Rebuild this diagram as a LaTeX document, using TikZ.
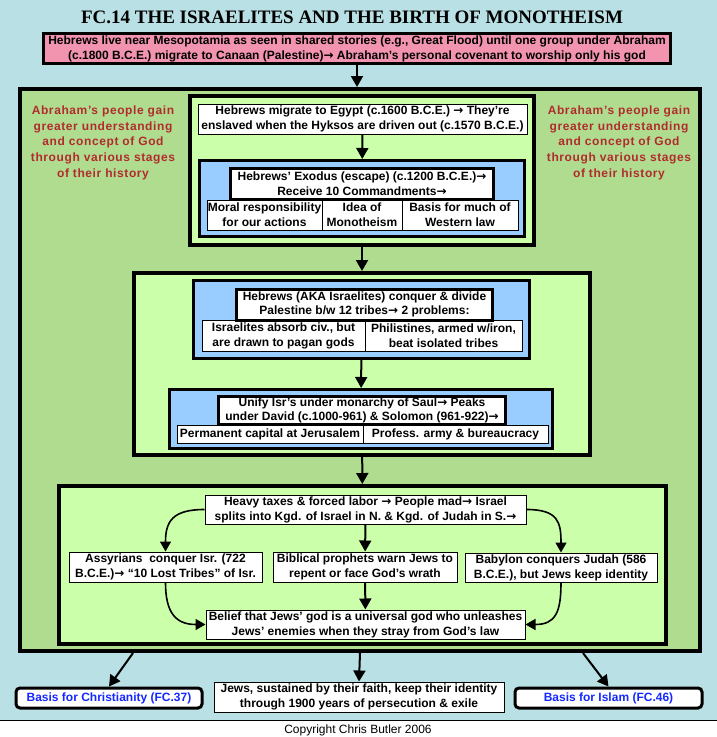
\documentclass[tikz,border=0pt]{standalone}
\usepackage{fontspec}
\setmainfont{Liberation Sans}
\newfontfamily\titlefont{Liberation Serif}
\newfontfamily\notefont[LetterSpace=5]{Liberation Sans}
\newfontfamily\arrowfont{DejaVu Sans}
\usetikzlibrary{arrows.meta}
\definecolor{bgblue}{RGB}{185,224,228}
\definecolor{midgreen}{RGB}{176,220,144}
\definecolor{palegreen}{RGB}{204,255,170}
\definecolor{skyblue}{RGB}{153,204,255}
\definecolor{pinkbox}{RGB}{242,148,176}
\definecolor{notered}{RGB}{176,44,44}
\definecolor{linkblue}{RGB}{20,40,255}
\newcommand{\boxfont}{\bfseries\fontsize{12}{15}\selectfont}
\newcommand{\ra}{{\arrowfont\bfseries →}}
\begin{document}
\begin{tikzpicture}[x=1pt,y=-1pt,
        wh/.style 2 args={minimum width=#1pt,minimum height=#2pt},
        txt/.style={draw,fill=white,line width=1pt,inner sep=0pt,align=center,font=\boxfont},
        headbox/.style={txt,line width=3pt},
        bluebox/.style={draw,fill=skyblue,line width=3pt,inner sep=0pt},
        stagebox/.style={draw,fill=palegreen,line width=4pt,inner sep=0pt},
        linkbox/.style={txt,line width=3pt,rounded corners=4pt,text=linkblue},
        note/.style={text=notered,align=center,font=\notefont\bfseries\fontsize{12}{15.8}\selectfont},
        arr/.style={line width=2pt,-{Triangle[length=11pt,width=12pt]}},
        carr/.style={line width=1.6pt,-{Triangle[length=10pt,width=11pt]}}]
        \useasboundingbox (0,0) rectangle (717,737);
        % page
        \fill[bgblue] (0,0) rectangle (717,720);
        \fill[white] (0,720) rectangle (717,737);
        \draw[line width=1pt] (0,720) -- (717,720);
        \node[anchor=base,font=\titlefont\bfseries\fontsize{19}{19}\selectfont] (title) at (352,23) {FC.14 THE ISRAELITES AND THE BIRTH OF MONOTHEISM};
        \node[txt,fill=pinkbox,line width=3pt,wh={627}{30}] (canaan) at (357,48.5) {Hebrews live near Mesopotamia as seen in shared stories (e.g., Great Flood) until one group under Abraham\\(c.1800 B.C.E.) migrate to Canaan (Palestine)\ra{} Abraham’s personal covenant to worship only his god};
        % big frame
        \node[stagebox,fill=midgreen,wh={680}{562}] (history) at (360,370) {};
        \draw[arr] (canaan.south) -- (canaan.south |- history.north);
        \node[note] (noteL) at (103,142.7) {Abraham’s people gain\\greater understanding\\and concept of God\\through various stages\\of their history};
        \node[note] (noteR) at (619,142.7) {Abraham’s people gain\\greater understanding\\and concept of God\\through various stages\\of their history};
        % Egypt and Exodus
        \node[stagebox,wh={344}{149}] (egypt) at (362,170.5) {};
        \node[txt,wh={329}{30}] (migrate) at (362.5,119) {Hebrews migrate to Egypt (c.1600 B.C.E.) \ra{} They’re\\enslaved when the Hyksos are driven out (c.1570 B.C.E.)};
        \node[bluebox,wh={325}{76}] (exodus) at (362,198.5) {};
        \node[txt,wh={115}{30}] (moral) at (264.5,215) {Moral responsibility\\for our actions};
        \node[txt,wh={80}{30}] (mono) at (362,215) {Idea of\\Monotheism};
        \node[txt,wh={116}{30}] (westlaw) at (460,215) {Basis for much of\\Western law};
        \node[headbox,wh={263}{31}] (commands) at (362,184) {Hebrews’ Exodus (escape) (c.1200 B.C.E.)\ra\\Receive 10 Commandments\ra};
        \draw[arr] (migrate) -- (exodus);
        % Palestine and the monarchy
        \node[stagebox,wh={456}{182}] (palestine) at (362,364) {};
        \draw[arr] (egypt) -- (palestine);
        \node[bluebox,wh={336}{78}] (conquest) at (361.5,319.5) {};
        \node[txt,wh={163}{31}] (absorb) at (283.5,335.5) {Israelites absorb civ., but\\are drawn to pagan gods};
        \node[txt,wh={157}{31}] (philist) at (443.5,335.5) {Philistines, armed w/iron,\\beat isolated tribes};
        \node[headbox,wh={256}{31},font=\bfseries\fontsize{12}{14}\selectfont] (tribes) at (364.5,304.5) {Hebrews (AKA Israelites) conquer \& divide\\Palestine b/w 12 tribes\ra{} 2 problems:};
        \node[bluebox,wh={383}{59}] (monarchy) at (361,419) {};
        \node[txt,wh={186}{18}] (capital) at (270,434) {Permanent capital at Jerusalem};
        \node[txt,wh={185}{18}] (army) at (455.5,434) {Profess. army \& bureaucracy};
        \node[headbox,wh={287}{28},font=\bfseries\fontsize{12}{13.5}\selectfont] (saul) at (362,410.5) {Unify Isr’s under monarchy of Saul\ra{} Peaks\\under David (c.1000-961) \& Solomon (961-922)\ra};
        \draw[arr] (conquest) -- (monarchy);
        % the split kingdom
        \node[stagebox,wh={607}{158}] (split) at (362.5,565) {};
        \draw[arr] (palestine) -- (split);
        \node[txt,wh={321}{29}] (taxes) at (365.5,509.5) {Heavy taxes \& forced labor \ra{} People mad\ra{} Israel\\splits into Kgd. of Israel in N. \& Kgd. of Judah in S.\ra};
        \node[txt,wh={193}{30}] (assyria) at (165.5,567) {Assyrians\ \ conquer Isr. (722\\B.C.E.)\ra{} “10 Lost Tribes” of Isr.};
        \node[txt,wh={184}{30}] (prophets) at (365,567) {Biblical prophets warn Jews to\\repent or face God’s wrath};
        \node[txt,wh={192}{29}] (babylon) at (561,567.5) {Babylon conquers Judah (586\\B.C.E.), but Jews keep identity};
        \node[txt,wh={319}{29}] (belief) at (365.5,624.5) {Belief that Jews’ god is a universal god who unleashes\\Jews’ enemies when they stray from God’s law};
        \draw[carr] (taxes.west) .. controls +(-32,0) and +(0,-30) .. (assyria.north);
        \draw[carr] (taxes.east) .. controls +(32,0) and +(0,-30) .. (babylon.north);
        \draw[arr] (taxes) -- (prophets);
        \draw[arr] (prophets) -- (belief);
        \draw[carr] (assyria.south) .. controls +(0,30) and +(-30,0) .. (belief.west);
        \draw[carr] (babylon.south) .. controls +(0,30) and +(30,0) .. (belief.east);
        % what follows
        \node[linkbox,wh={186}{20}] (christ) at (109,698) {Basis for Christianity (FC.37)};
        \node[txt,wh={290}{30}] (exile) at (359,697) {Jews, sustained by their faith, keep their identity\\through 1900 years of persecution \& exile};
        \node[linkbox,wh={187}{20}] (islam) at (608.5,698) {Basis for Islam (FC.46)};
        \draw[arr] ([xshift=115pt]history.south west) -- (christ.north);
        \draw[arr] (history.south) -- (exile.north);
        \draw[arr] ([xshift=-119pt]history.south east) -- (islam.north);
        \node[anchor=base,font=\fontsize{12}{14}\selectfont] (copyright) at (358,733) {Copyright Chris Butler 2006};
    \end{tikzpicture}
\end{document}
